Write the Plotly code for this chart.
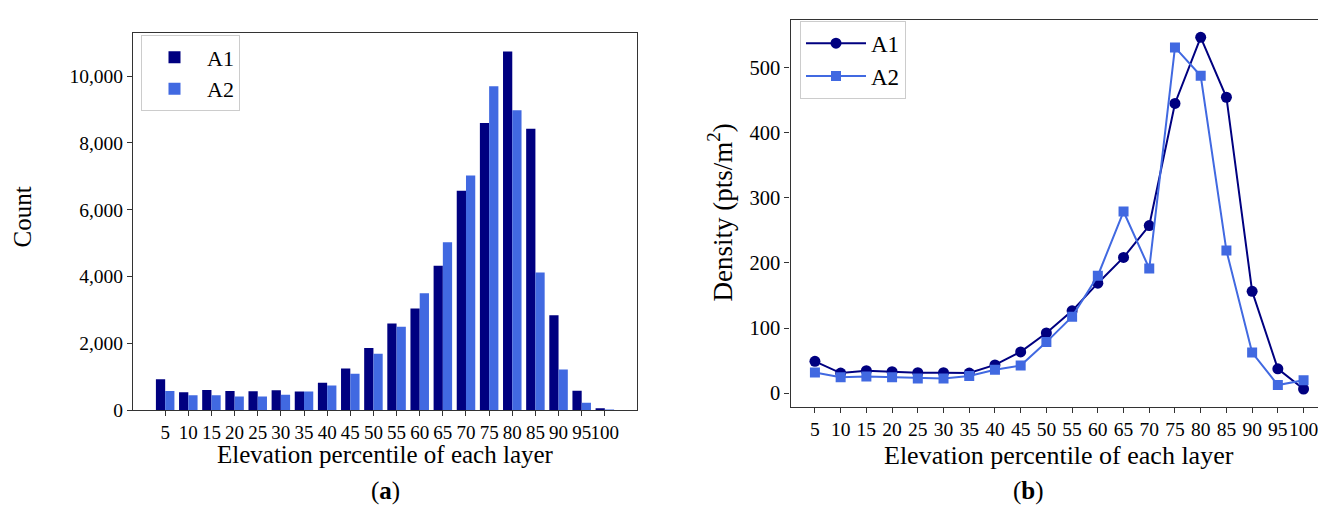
import plotly.graph_objects as go

# ---- data ----
percentiles = ["5", "10", "15", "20", "25", "30", "35", "40", "45", "50",
               "55", "60", "65", "70", "75", "80", "85", "90", "95", "100"]
count_a1 = [927, 537, 605, 576, 566, 595, 556, 820, 1249, 1863,
            2595, 3044, 4322, 6566, 8595, 10732, 8419, 2839, 585, 59]
count_a2 = [576, 449, 449, 410, 410, 459, 556, 741, 1093, 1688,
            2498, 3502, 5024, 7024, 9697, 8975, 4117, 1220, 224, 8]
density_a1 = [49, 31, 34.5, 33, 31.5, 31.5, 31, 43.5, 63.5, 92.5,
              126.5, 169, 208.5, 257.5, 445, 546.5, 454.5, 156.5, 37.5, 6.5]
density_a2 = [32, 24.5, 25.5, 24.5, 22.5, 22.5, 26.5, 36, 42.5, 78.5,
              117.5, 180.5, 279, 191.5, 531, 487.5, 219, 62.5, 12.5, 20]
count_ticks = [0, 2000, 4000, 6000, 8000, 10000]
density_ticks = [0, 100, 200, 300, 400, 500]

NAVY = "#000080"
ROYAL = "#4169E1"
FONT = "Liberation Serif, Times New Roman, serif"
AX = "#333333"

W, H = 1326, 514
def px(x):
    return x / W
def py(y):
    return 1 - y / H

idx = list(range(len(percentiles)))

fig = go.Figure()
fig.add_trace(go.Bar(x=idx, y=count_a1, width=0.4, offset=-0.4, name="A1",
                     marker=dict(color=NAVY, line=dict(width=0)),
                     xaxis="x", yaxis="y", legend="legend"))
fig.add_trace(go.Bar(x=idx, y=count_a2, width=0.4, offset=0.0, name="A2",
                     marker=dict(color=ROYAL, line=dict(width=0)),
                     xaxis="x", yaxis="y", legend="legend"))
fig.add_trace(go.Scatter(x=idx, y=density_a1, mode="lines+markers", name="A1",
                         line=dict(color=NAVY, width=2),
                         marker=dict(symbol="circle", size=11, color=NAVY),
                         xaxis="x2", yaxis="y2", legend="legend2"))
fig.add_trace(go.Scatter(x=idx, y=density_a2, mode="lines+markers", name="A2",
                         line=dict(color=ROYAL, width=2),
                         marker=dict(symbol="square", size=10, color=ROYAL),
                         xaxis="x2", yaxis="y2", legend="legend2"))

axis_common = dict(showline=True, linecolor=AX, linewidth=1.2, mirror=True,
                   ticks="outside", ticklen=5, tickcolor=AX, tickwidth=1.2,
                   showgrid=False, zeroline=False)

fig.update_layout(
    width=W, height=H,
    margin=dict(l=0, r=0, t=0, b=0),
    paper_bgcolor="white", plot_bgcolor="white",
    barmode="overlay",
    font=dict(family=FONT, color="black"),
    xaxis=dict(domain=[px(125), px(629)], range=[-1.39, 20.39],
               tickvals=idx, ticktext=percentiles, anchor="y", tickangle=0,
               tickfont=dict(size=19), **axis_common),
    yaxis=dict(domain=[py(411), py(26)], range=[0, 11274],
               tickvals=count_ticks, tickformat=",", anchor="x",
               tickfont=dict(size=19.5), **axis_common),
    xaxis2=dict(domain=[px(782.5), px(1320)], range=[-0.95, 19.95],
                tickvals=idx, ticktext=percentiles, anchor="y2", tickangle=0,
                tickfont=dict(size=19.5), **axis_common),
    yaxis2=dict(domain=[py(407.3), py(12)], range=[-20.5, 573.5],
                tickvals=density_ticks, anchor="x2",
                tickfont=dict(size=20.5), **axis_common),
    legend=dict(x=px(133), y=py(28), xanchor="left", yanchor="top",
                bgcolor="rgba(255,255,255,0.8)", bordercolor="#cccccc",
                borderwidth=1, font=dict(size=22), itemwidth=55,
                tracegroupgap=2),
    legend2=dict(x=px(792), y=py(13), xanchor="left", yanchor="top",
                 bgcolor="rgba(255,255,255,0.8)", bordercolor="#cccccc",
                 borderwidth=1, font=dict(size=23), itemwidth=60,
                 tracegroupgap=2),
    showlegend=True,
)

annotations = [
    dict(text="Elevation percentile of each layer", x=px(377), y=py(456),
         font=dict(size=25)),
    dict(text="Count", x=px(14), y=py(214), textangle=-90, font=dict(size=25)),
    dict(text="(<b>a</b>)", x=px(377), y=py(494), font=dict(size=25)),
    dict(text="Elevation percentile of each layer", x=px(1051), y=py(457),
         font=dict(size=26)),
    dict(text="Density (pts/m<sup>2</sup>)", x=px(712), y=py(209),
         textangle=-90, font=dict(size=27)),
    dict(text="(<b>b</b>)", x=px(1020), y=py(494), font=dict(size=25)),
]
for a in annotations:
    a.update(xref="paper", yref="paper", showarrow=False,
             xanchor="center", yanchor="middle")
fig.update_layout(annotations=annotations)

fig.write_html("out.html")
